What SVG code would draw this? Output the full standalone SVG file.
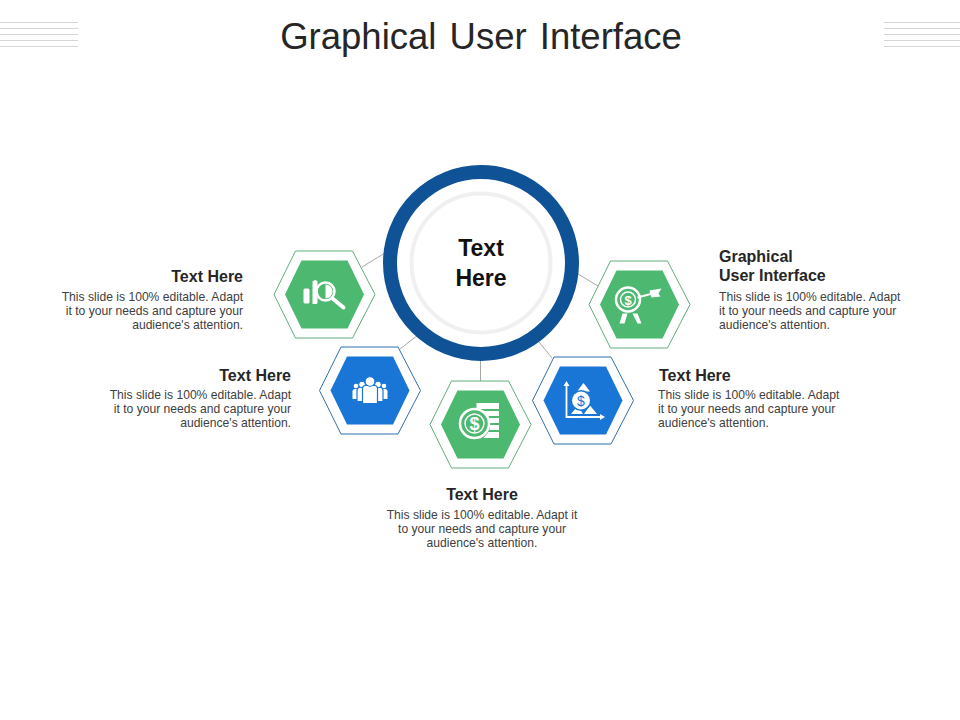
<svg xmlns="http://www.w3.org/2000/svg" width="960" height="720" viewBox="0 0 960 720">
<style>
text{font-family:"Liberation Sans",Arial,sans-serif}
.t{font-size:16px;font-weight:700;fill:#262626}
.b{font-size:12.130px;fill:#404040}
.e{text-anchor:end}
.m{text-anchor:middle}
.hl{stroke:#d4d4d4;stroke-width:1.2}
.c{stroke:#a8a8a0;stroke-width:1;fill:none}
.og{fill:#fff;stroke:#5fae7c;stroke-width:1}
.ob{fill:#fff;stroke:#2c70ad;stroke-width:1}
.ig{fill:#4cb870}
.ib{fill:#1a76d6}
.w{fill:#fff}
.ws{fill:none;stroke:#fff}
</style>
<defs>
<polygon id="ho" points="-50.500,0 -29,-43.500 28,-43.500 50.500,0 28,43.500 -29,43.500"/>
<polygon id="hi" points="-39.500,0 -23,-34 23,-34 39.500,0 23,34 -23,34"/>
</defs>
<rect width="960" height="720" fill="#fff"/>
<g id="header-lines">
<path class="hl" d="M0 22.500H78M0 28.500H78M0 34.500H78M0 40.500H78M0 46.500H78M884 22.500H960M884 28.500H960M884 34.500H960M884 40.500H960M884 46.500H960"/>
</g>
<text id="title" x="481" y="49" class="m" font-size="36.500" fill="#262626" word-spacing="3">Graphical User Interface</text>
<g id="connectors">
<path class="c" d="M362 267L385 253"/>
<path class="c" d="M400 349L418 335"/>
<path class="c" d="M480.500 381V360"/>
<path class="c" d="M552 358L539 342"/>
<path class="c" d="M598 286L578 274"/>
</g>
<g id="center">
<circle cx="481" cy="263" r="91" fill="#fff" stroke="#0f5296" stroke-width="14"/>
<circle cx="481" cy="263" r="69.500" fill="#fff" stroke="#f0f0f0" stroke-width="4"/>
<text x="481" y="256" class="m" font-size="23" font-weight="700" fill="#111">Text</text>
<text x="481" y="285.500" class="m" font-size="23" font-weight="700" fill="#111">Here</text>
</g>
<g id="node-search" transform="translate(324.500 294.500)">
<use href="#ho" class="og"/><use href="#hi" class="ig"/>
<rect class="w" x="-21" y="-6" width="6" height="15" rx="1.500"/>
<path class="w" d="M-12 -13Q-9 -16 -7 -13V8Q-7 9.500 -9 9.500H-12Z"/>
<circle cx="1" cy="-3" r="9" class="ws" stroke-width="2.500"/>
<path class="w" d="M1 -10A7 7 0 0 1 1 4Z"/>
<path class="ws" d="M8 4L19 13" stroke-width="4" stroke-linecap="round"/>
</g>
<g id="node-people" transform="translate(370 390.500)">
<use href="#ho" class="ob"/><use href="#hi" class="ib"/>
<path class="w" d="M-17.500 8.500V1Q-17.500 -1.500 -15 -1.500H-11Q-8.500 -1.500 -8.500 1V8.500Z"/>
<path class="w" d="M17.500 8.500V1Q17.500 -1.500 15 -1.500H11Q8.500 -1.500 8.500 1V8.500Z"/>
<circle class="w" cx="-14" cy="-4.500" r="2.300"/><circle class="w" cx="14" cy="-4.500" r="2.300"/>
<path class="w" d="M-13 11V0Q-13 -3 -10 -3H10Q13 -3 13 0V11Z" stroke="#1a76d6" stroke-width="1.200"/>
<circle class="w" cx="-8" cy="-6" r="3.300" stroke="#1a76d6" stroke-width="1"/><circle class="w" cx="8" cy="-6" r="3.300" stroke="#1a76d6" stroke-width="1"/>
<path class="w" d="M-7.500 13V-2Q-7.500 -5 -4.500 -5H4.500Q7.500 -5 7.500 -2V13Z" stroke="#1a76d6" stroke-width="1.200"/>
<circle class="w" cx="0" cy="-9" r="4.800" stroke="#1a76d6" stroke-width="1"/>
</g>
<g id="node-coins" transform="translate(480.500 424.500)">
<use href="#ho" class="og"/><use href="#hi" class="ig"/>
<path class="w" d="M-4 -21.500H18.500V-15.500H-4ZM1 -13.500H18.500V-8.500H6ZM8 -6.500H18.500V-1.500H9.500ZM9.500 0.500H18.500V5.500H9ZM8 7.500H18.500V13.500H3Z"/>
<circle cx="-6" cy="-1" r="14.500" fill="#4cb870" stroke="#fff" stroke-width="2.500"/>
<circle cx="-6" cy="-1" r="9.500" class="ws" stroke-width="1.500"/>
<text x="-6" y="5.500" class="m" font-size="18" font-weight="700" fill="#fff">$</text>
</g>
<g id="node-chart" transform="translate(583 400.500)">
<use href="#ho" class="ob"/><use href="#hi" class="ib"/>
<path class="ws" d="M-16.500 -16V16.500H18" stroke-width="1.800"/>
<path class="w" d="M-19.500 -14.500L-16.500 -19.500L-13.500 -14.500ZM17 13.500L22 16.500L17 19.500Z"/>
<path class="w" d="M0.500 -17.500L7 -9H-6ZM-12 13.500L-5 5L0 13.500ZM1 13.500L7 5L14 13.500Z"/>
<circle cx="-2" cy="0" r="10.500" fill="#1a76d6"/>
<circle cx="-2" cy="0" r="9" class="w"/>
<text x="-2" y="5" class="m" font-size="14" fill="#1a76d6">$</text>
</g>
<g id="node-target" transform="translate(639.500 304.500)">
<use href="#ho" class="og"/><use href="#hi" class="ig"/>
<path class="w" d="M-17 9L-12 9L-15 19H-20ZM-7 9L-2 9L2 19H-2Z"/>
<circle cx="-11.500" cy="-5" r="12" fill="#4cb870" stroke="#fff" stroke-width="2.500"/>
<circle cx="-11.500" cy="-5" r="7.500" class="ws" stroke-width="1.500"/>
<text x="-11.500" y="0" class="m" font-size="13" font-weight="700" fill="#fff">$</text>
<path class="ws" d="M-2 -7L13 -11" stroke-width="2"/>
<path class="w" d="M10 -14L22 -16L19 -11L21 -8L12 -7Z"/>
</g>
<g id="label-search">
<text x="243" y="282" class="t e">Text Here</text>
<text x="243" y="301" class="b e">This slide is 100% editable. Adapt</text>
<text x="243" y="315" class="b e">it to your needs and capture your</text>
<text x="243" y="329" class="b e">audience's attention.</text>
</g>
<g id="label-people">
<text x="291" y="381" class="t e">Text Here</text>
<text x="291" y="399" class="b e">This slide is 100% editable. Adapt</text>
<text x="291" y="413" class="b e">it to your needs and capture your</text>
<text x="291" y="427" class="b e">audience's attention.</text>
</g>
<g id="label-coins">
<text x="482" y="499.500" class="t m">Text Here</text>
<text x="482" y="519" class="b m">This slide is 100% editable. Adapt it</text>
<text x="482" y="533" class="b m">to your needs and capture your</text>
<text x="482" y="547" class="b m">audience's attention.</text>
</g>
<g id="label-chart">
<text x="659" y="381" class="t">Text Here</text>
<text x="658" y="399" class="b">This slide is 100% editable. Adapt</text>
<text x="658" y="413" class="b">it to your needs and capture your</text>
<text x="658" y="427" class="b">audience's attention.</text>
</g>
<g id="label-target">
<text x="719" y="262" class="t">Graphical</text>
<text x="719" y="281" class="t">User Interface</text>
<text x="719" y="301" class="b">This slide is 100% editable. Adapt</text>
<text x="719" y="315" class="b">it to your needs and capture your</text>
<text x="719" y="329" class="b">audience's attention.</text>
</g>
</svg>
